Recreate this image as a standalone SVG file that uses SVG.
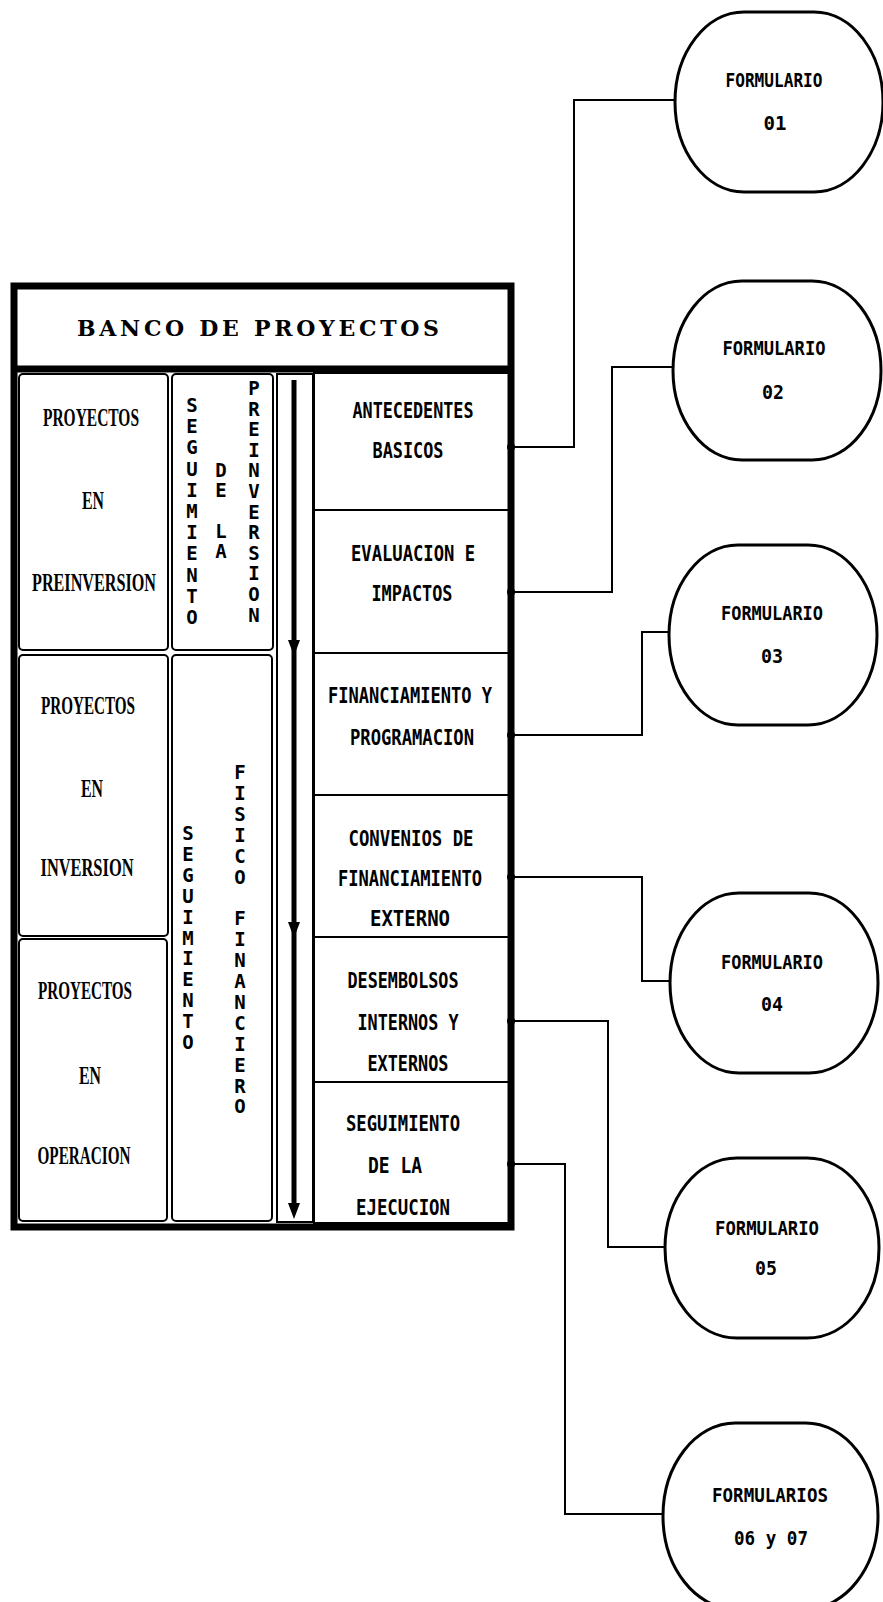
<svg xmlns="http://www.w3.org/2000/svg" width="883" height="1602" viewBox="0 0 883 1602">
<style>
.bg{fill:#fff}
.frame{fill:none;stroke:#000;stroke-width:7}
.thick{stroke:#000;stroke-width:7}
.box{fill:none;stroke:#000;stroke-width:2}
.thin{stroke:#000;stroke-width:2}
.conn{fill:none;stroke:#000;stroke-width:2}
.form{fill:#fff;stroke:#000;stroke-width:3}
.title{font-family:"DejaVu Serif","Liberation Serif",serif;font-weight:bold;font-size:22px;fill:#000}
.lt{font-family:"Liberation Serif","DejaVu Serif",serif;font-weight:bold;font-size:26px;fill:#000;text-anchor:middle}
.it{font-family:"DejaVu Sans Mono","Liberation Mono",monospace;font-weight:bold;font-size:21px;fill:#000;text-anchor:middle}
.vt{font-family:"DejaVu Sans Mono","Liberation Mono",monospace;font-weight:bold;font-size:19px;fill:#000;text-anchor:middle;writing-mode:vertical-rl;text-orientation:upright}
.ft{font-family:"DejaVu Sans Mono","Liberation Mono",monospace;font-weight:bold;font-size:19px;fill:#000;text-anchor:middle}
</style>
<rect class="bg" x="0" y="0" width="883" height="1602"/>

<g id="connectors">
  <polyline class="conn" points="510,447 574,447 574,100 675,100"/>
  <polyline class="conn" points="510,592 612,592 612,367 673,367"/>
  <polyline class="conn" points="510,735 642,735 642,632 669,632"/>
  <polyline class="conn" points="510,877 642,877 642,981 670,981"/>
  <polyline class="conn" points="510,1021 608,1021 608,1247 665,1247"/>
  <polyline class="conn" points="510,1164 565,1164 565,1514 663,1514"/>
  <g fill="#000">
    <circle cx="511" cy="447" r="4"/>
    <circle cx="511" cy="592" r="4"/>
    <circle cx="511" cy="735" r="4"/>
    <circle cx="511" cy="877" r="4"/>
    <circle cx="511" cy="1021" r="4"/>
    <circle cx="511" cy="1164" r="4"/>
  </g>
</g>

<g id="banco">
  <rect class="frame" x="14" y="286" width="497" height="941"/>
  <line class="thick" x1="14" y1="369" x2="511" y2="369"/>
  <text class="title" x="77" y="336" textLength="362" lengthAdjust="spacing">BANCO DE PROYECTOS</text>
</g>

<g id="preinversion">
  <rect class="box" x="19" y="374" width="149" height="276" rx="4"/>
  <text class="lt" x="91" y="426" textLength="96" lengthAdjust="spacingAndGlyphs">PROYECTOS</text>
  <text class="lt" x="93" y="509" textLength="22" lengthAdjust="spacingAndGlyphs">EN</text>
  <text class="lt" x="94" y="591" textLength="124" lengthAdjust="spacingAndGlyphs">PREINVERSION</text>
</g>

<g id="inversion">
  <rect class="box" x="19" y="655" width="149" height="281" rx="4"/>
  <text class="lt" x="88" y="714" textLength="94" lengthAdjust="spacingAndGlyphs">PROYECTOS</text>
  <text class="lt" x="92" y="797" textLength="22" lengthAdjust="spacingAndGlyphs">EN</text>
  <text class="lt" x="87" y="876" textLength="93" lengthAdjust="spacingAndGlyphs">INVERSION</text>
</g>

<g id="operacion">
  <rect class="box" x="19" y="939" width="148" height="282" rx="4"/>
  <text class="lt" x="85" y="999" textLength="94" lengthAdjust="spacingAndGlyphs">PROYECTOS</text>
  <text class="lt" x="90" y="1084" textLength="22" lengthAdjust="spacingAndGlyphs">EN</text>
  <text class="lt" x="84" y="1164" textLength="93" lengthAdjust="spacingAndGlyphs">OPERACION</text>
</g>

<g id="seguimiento-preinversion">
  <rect class="box" x="172" y="374" width="101" height="276" rx="4"/>
  <text class="vt" x="192" y="405 426.2 447.4 468.6 489.8 511 532.2 553.4 574.6 595.8 617">SEGUIMIENTO</text>
  <text class="vt" x="221" y="470 490">DE</text>
  <text class="vt" x="221" y="531 551">LA</text>
  <text class="vt" x="254" y="388 408.6 429.2 449.8 470.4 491 511.6 532.2 552.8 573.4 594 614.6">PREINVERSION</text>
</g>

<g id="seguimiento-fisico">
  <rect class="box" x="172" y="655" width="100" height="566" rx="4"/>
  <text class="vt" x="188" y="833 853.9 874.8 895.7 916.6 937.5 958.4 979.3 1000.2 1021.1 1042">SEGUIMIENTO</text>
  <text class="vt" x="240" y="772 792.9 813.8 834.7 855.6 876.5">FISICO</text>
  <text class="vt" x="240" y="918.3 939.2 960.1 981 1001.9 1022.8 1043.7 1064.6 1085.5 1106.4">FINANCIERO</text>
</g>

<g id="flujo">
  <rect class="box" x="277" y="374" width="36" height="848"/>
  <line x1="294" y1="380" x2="294" y2="1210" stroke="#000" stroke-width="5"/>
  <polygon points="288,640 300,640 294,656" fill="#000"/>
  <polygon points="288,922 300,922 294,938" fill="#000"/>
  <polygon points="288,1203 300,1203 294,1219" fill="#000"/>
</g>

<g id="etapas">
  <rect class="box" x="314" y="373" width="196" height="850"/>
  <line class="thin" x1="314" y1="510" x2="510" y2="510"/>
  <line class="thin" x1="314" y1="653" x2="510" y2="653"/>
  <line class="thin" x1="314" y1="795" x2="510" y2="795"/>
  <line class="thin" x1="314" y1="937" x2="510" y2="937"/>
  <line class="thin" x1="314" y1="1082" x2="510" y2="1082"/>
</g>

<g id="antecedentes">
  <text class="it" x="413" y="418" textLength="121" lengthAdjust="spacingAndGlyphs">ANTECEDENTES</text>
  <text class="it" x="408" y="458" textLength="71" lengthAdjust="spacingAndGlyphs">BASICOS</text>
</g>
<g id="evaluacion">
  <text class="it" x="413" y="561" textLength="124" lengthAdjust="spacingAndGlyphs">EVALUACION E</text>
  <text class="it" x="412" y="601" textLength="81" lengthAdjust="spacingAndGlyphs">IMPACTOS</text>
</g>
<g id="financiamiento">
  <text class="it" x="410" y="703" textLength="164" lengthAdjust="spacingAndGlyphs">FINANCIAMIENTO Y</text>
  <text class="it" x="412" y="745" textLength="124" lengthAdjust="spacingAndGlyphs">PROGRAMACION</text>
</g>
<g id="convenios">
  <text class="it" x="411" y="846" textLength="125" lengthAdjust="spacingAndGlyphs">CONVENIOS DE</text>
  <text class="it" x="410" y="886" textLength="144" lengthAdjust="spacingAndGlyphs">FINANCIAMIENTO</text>
  <text class="it" x="410" y="926" textLength="80" lengthAdjust="spacingAndGlyphs">EXTERNO</text>
</g>
<g id="desembolsos">
  <text class="it" x="403" y="988" textLength="111" lengthAdjust="spacingAndGlyphs">DESEMBOLSOS</text>
  <text class="it" x="408" y="1030" textLength="101" lengthAdjust="spacingAndGlyphs">INTERNOS Y</text>
  <text class="it" x="408" y="1071" textLength="81" lengthAdjust="spacingAndGlyphs">EXTERNOS</text>
</g>
<g id="seguimiento-ejecucion">
  <text class="it" x="403" y="1131" textLength="114" lengthAdjust="spacingAndGlyphs">SEGUIMIENTO</text>
  <text class="it" x="395" y="1173" textLength="54" lengthAdjust="spacingAndGlyphs">DE LA</text>
  <text class="it" x="403" y="1215" textLength="94" lengthAdjust="spacingAndGlyphs">EJECUCION</text>
</g>

<g id="formulario01">
  <path class="form" d="M744,12 L814,12 C852.1,12 883,52.3 883,102 C883,151.7 852.1,192 814,192 L744,192 C705.9,192 675,151.7 675,102 C675,52.3 705.9,12 744,12 Z"/>
  <text class="ft" x="774" y="87" textLength="97" lengthAdjust="spacingAndGlyphs">FORMULARIO</text>
  <text class="ft" x="775" y="129.5" textLength="23" lengthAdjust="spacingAndGlyphs">01</text>
</g>
<g id="formulario02">
  <path class="form" d="M742,281 L812,281 C850.1,281 881,321.1 881,370.5 C881,419.9 850.1,460 812,460 L742,460 C703.9,460 673,419.9 673,370.5 C673,321.1 703.9,281 742,281 Z"/>
  <text class="ft" x="774" y="355" textLength="103" lengthAdjust="spacingAndGlyphs">FORMULARIO</text>
  <text class="ft" x="773" y="399" textLength="22" lengthAdjust="spacingAndGlyphs">02</text>
</g>
<g id="formulario03">
  <path class="form" d="M738,545 L808,545 C846.1,545 877,585.3 877,635 C877,684.7 846.1,725 808,725 L738,725 C699.9,725 669,684.7 669,635 C669,585.3 699.9,545 738,545 Z"/>
  <text class="ft" x="772" y="620" textLength="102" lengthAdjust="spacingAndGlyphs">FORMULARIO</text>
  <text class="ft" x="772" y="663" textLength="22" lengthAdjust="spacingAndGlyphs">03</text>
</g>
<g id="formulario04">
  <path class="form" d="M739,893 L809,893 C847.1,893 878,933.3 878,983 C878,1032.7 847.1,1073 809,1073 L739,1073 C700.9,1073 670,1032.7 670,983 C670,933.3 700.9,893 739,893 Z"/>
  <text class="ft" x="772" y="969" textLength="102" lengthAdjust="spacingAndGlyphs">FORMULARIO</text>
  <text class="ft" x="772" y="1011" textLength="22" lengthAdjust="spacingAndGlyphs">04</text>
</g>
<g id="formulario05">
  <path class="form" d="M737,1158 L807,1158 C846.8,1158 879,1198.3 879,1248 C879,1297.7 846.8,1338 807,1338 L737,1338 C697.2,1338 665,1297.7 665,1248 C665,1198.3 697.2,1158 737,1158 Z"/>
  <text class="ft" x="767" y="1235" textLength="104" lengthAdjust="spacingAndGlyphs">FORMULARIO</text>
  <text class="ft" x="766" y="1275" textLength="22" lengthAdjust="spacingAndGlyphs">05</text>
</g>
<g id="formulario0607">
  <path class="form" d="M735.5,1423 L805.5,1423 C845.5,1423 878,1464.6 878,1516 C878,1567.4 845.5,1609 805.5,1609 L735.5,1609 C695.5,1609 663,1567.4 663,1516 C663,1464.6 695.5,1423 735.5,1423 Z"/>
  <text class="ft" x="770" y="1502" textLength="116" lengthAdjust="spacingAndGlyphs">FORMULARIOS</text>
  <text class="ft" x="771" y="1545" textLength="74" lengthAdjust="spacingAndGlyphs">06 y 07</text>
</g>
</svg>
